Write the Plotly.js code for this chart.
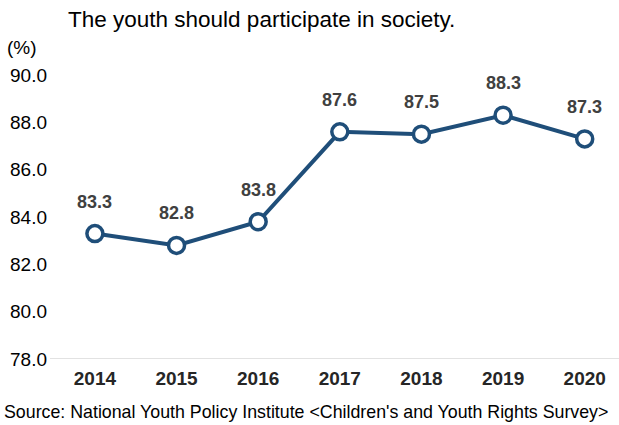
<!DOCTYPE html>
<html>
<head>
<meta charset="utf-8">
<script src="https://cdn.plot.ly/plotly-3.0.1.min.js"></script>
<style>html,body{margin:0;padding:0;background:#fff;}#chart{width:619px;height:425px;}</style>
</head>
<body>
<div id="chart"></div>
<script>
const years = [2014, 2015, 2016, 2017, 2018, 2019, 2020];
const values = [83.3, 82.8, 83.8, 87.6, 87.5, 88.3, 87.3];
const yTicks = [78, 80, 82, 84, 86, 88, 90];
const yTickLabels = ["78.0", "80.0", "82.0", "84.0", "86.0", "88.0", "90.0"];
const titleText = "The youth should participate in society.";
const sourceText = "Source: National Youth Policy Institute &lt;Children's and Youth Rights Survey&gt;";

const narrow = "Liberation Sans Narrow, Arial Narrow, Liberation Sans, Arial";

const trace = {
  x: years,
  y: values,
  type: "scatter",
  mode: "lines+markers",
  line: {color: "#1F4E79", width: 4},
  marker: {size: 16, color: "#ffffff", line: {color: "#1F4E79", width: 3.5}},
  cliponaxis: false,
  hoverinfo: "skip"
};

const W = 569, H = 284, L = 50, B = 359;
const px = x => (x - L) / W;
const py = y => (B - y) / H;

const annotations = [
  {text: titleText, xref: "paper", yref: "paper", x: px(66), xanchor: "left", y: py(5), yanchor: "top",
   showarrow: false, font: {family: "Liberation Sans, Arial", size: 22.5, color: "#000000"}},
  {text: "(%)", xref: "paper", yref: "paper", x: px(5), xanchor: "left", y: py(35), yanchor: "top",
   showarrow: false, font: {family: narrow, size: 19, color: "#000000"}},
  {text: sourceText, xref: "paper", yref: "paper", x: px(2), xanchor: "left", y: py(424), yanchor: "bottom",
   showarrow: false, font: {family: "Liberation Sans, Arial", size: 17.8, color: "#000000"}}
];
years.forEach((yr, i) => {
  annotations.push({
    x: yr, y: values[i], xref: "x", yref: "y", text: values[i].toFixed(1),
    showarrow: false, yshift: 32, yanchor: "middle",
    font: {family: narrow, size: 18, color: "#404040", weight: "bold"}
  });
});

const layout = {
  width: 619,
  height: 425,
  margin: {l: 50, r: 0, t: 75, b: 66},
  paper_bgcolor: "#ffffff",
  plot_bgcolor: "#ffffff",
  showlegend: false,
  xaxis: {
    range: [2013.45, 2020.42],
    tickmode: "array",
    tickvals: years,
    ticktext: years.map(String),
    showgrid: false,
    zeroline: false,
    showline: false,
    ticks: "",
    tickfont: {family: narrow, size: 19, color: "#262626", weight: "bold"},
    ticklabelstandoff: 6
  },
  yaxis: {
    range: [78, 90],
    tickmode: "array",
    tickvals: yTicks,
    ticktext: yTickLabels,
    showgrid: false,
    zeroline: false,
    showline: false,
    ticks: "",
    tickfont: {family: narrow, size: 19, color: "#000000"},
    ticklabelstandoff: 2
  },
  shapes: [{
    type: "line", xref: "paper", yref: "y", x0: 0, x1: 1, y0: 78, y1: 78,
    line: {color: "#d9d9d9", width: 1.5}
  }],
  annotations: annotations
};

Plotly.newPlot("chart", [trace], layout, {displayModeBar: false, staticPlot: true});
</script>
</body>
</html>
